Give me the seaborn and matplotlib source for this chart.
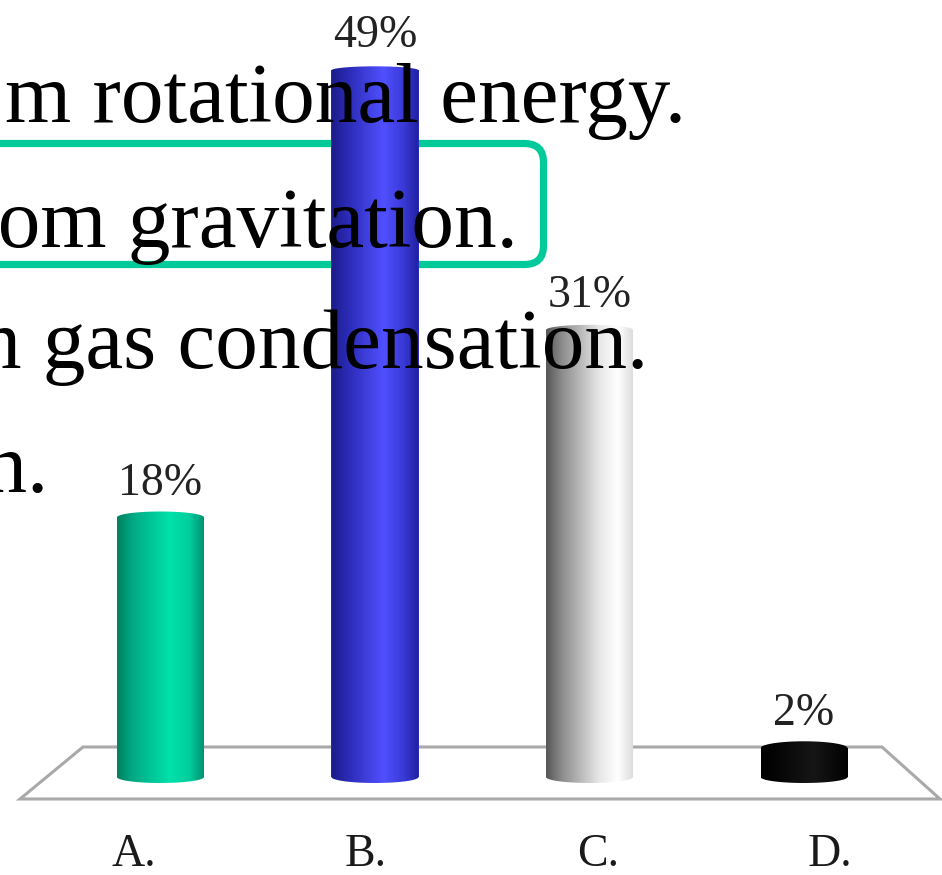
import numpy as np
import pandas as pd
import matplotlib
matplotlib.use("Agg")
import matplotlib.pyplot as plt
from matplotlib.colors import LinearSegmentedColormap
from matplotlib.path import Path
from matplotlib.patches import PathPatch, Polygon, FancyBboxPatch
import seaborn as sns

# ---- data -------------------------------------------------------------
categories = ["A.", "B.", "C.", "D."]
percent = [18, 49, 31, 2]
value_labels = ["18%", "49%", "31%", "2%"]

answer_lines = [
    "m rotational energy.",
    "from gravitation.",
    "from gas condensation.",
    "fusion.",
]

# ---- styling ----------------------------------------------------------
base_colors = ["#00C898", "#3535D8", "#F2F2F2", "#000000"]
shade_stops = [
    ["#00805F", "#00A985", "#00E2AA", "#00CF9E", "#008F6E"],
    ["#1C1C88", "#2A2AB4", "#5050FF", "#3A3AD8", "#2020A0"],
    ["#555555", "#8C8C8C", "#E6E6E6", "#FFFFFF", "#DADADA"],
    ["#000000", "#050505", "#161616", "#0A0A0A", "#000000"],
]
serif = ["Liberation Serif", "DejaVu Serif"]
teal = "#00C99A"
floor_gray = "#A9A9A9"

W, H, DPI = 942, 875, 100

sns.set_style("white")
plt.rcParams["font.family"] = serif

fig = plt.figure(figsize=(W / DPI, H / DPI), dpi=DPI)
fig.patch.set_facecolor("white")

# background layer: floor of the 3D plot and the highlight frame
bg = fig.add_axes([0, 0, 1, 1], zorder=0)
bg.set_xlim(0, W)
bg.set_ylim(H, 0)
bg.axis("off")
floor = Polygon([(20, 799), (83, 747), (882, 747), (940, 799)], closed=True,
                facecolor="white", edgecolor=floor_gray, lw=2.2, joinstyle="miter")
bg.add_patch(floor)
frame = FancyBboxPatch((-120, 143.5), 663.5, 121,
                       boxstyle="round,pad=0,rounding_size=19",
                       facecolor="none", edgecolor=teal, lw=5.2)
bg.add_patch(frame)

# bar layer
ax = fig.add_axes([0, 0, 1, 1], zorder=1)
ax.patch.set_alpha(0)
df = pd.DataFrame({"answer": categories, "share": percent})
sns.barplot(data=df, x="answer", y="share", hue="answer", palette=base_colors,
            width=0.4056, legend=False, ax=ax, saturation=1, edgecolor="none")

xlim = (-0.748, 3.643)
ylim = (-6.796, 53.88)
px_per_unit = H / (ylim[1] - ylim[0])

bars = sorted(ax.patches, key=lambda p: p.get_x())
for i, bar in enumerate(bars):
    x0 = bar.get_x()
    w = bar.get_width()
    v = bar.get_height()
    x1 = x0 + w
    xc = x0 + w / 2
    b_bot = 6.0 / px_per_unit
    b_top = (7.0 - 3.0 * v / 50.0) / px_per_unit

    t = np.linspace(np.pi, 2 * np.pi, 60)
    bottom = np.column_stack([xc + (w / 2) * np.cos(t), 0 + b_bot * np.sin(t)])
    t2 = np.linspace(0, np.pi, 60)
    top = np.column_stack([xc + (w / 2) * np.cos(t2), v + b_top * np.sin(t2)])
    verts = np.vstack([[[x0, v]], bottom, top, [[x0, v]]])
    codes = [Path.MOVETO] + [Path.LINETO] * (len(verts) - 2) + [Path.CLOSEPOLY]
    silhouette = PathPatch(Path(verts, codes), facecolor="none", edgecolor="none")
    ax.add_patch(silhouette)

    cmap = LinearSegmentedColormap.from_list(
        f"cyl{i}", list(zip([0, 0.18, 0.6, 0.82, 1.0], shade_stops[i])))
    grad = np.linspace(0, 1, 256).reshape(1, -1)
    im = ax.imshow(grad, extent=(x0, x1, -b_bot, v + b_top), aspect="auto",
                   cmap=cmap, origin="lower", interpolation="bicubic", zorder=3)
    im.set_clip_path(silhouette)

    ax.annotate(value_labels[i], xy=(xc, v), xytext=(0, 16.5),
                textcoords="offset points", ha="center", va="baseline",
                fontsize=33, color="#222222", family=serif, zorder=5)

ax.set_aspect("auto")
ax.set_xlim(*xlim)
ax.set_ylim(*ylim)
ax.set_xlabel("")
ax.set_ylabel("")
for s in ax.spines.values():
    s.set_visible(False)
ax.tick_params(left=False, bottom=False, labelleft=False, labelbottom=False)
ax.grid(False)

# category labels along the front edge of the floor (perspective spread)
c_mid, spread = 1.513, 1.0816
sec = ax.secondary_xaxis(
    0.047,
    functions=(lambda x: c_mid + (x - c_mid) / spread,
               lambda i: c_mid + (i - c_mid) * spread))
sec.set_xticks(range(len(categories)), labels=categories)
sec.tick_params(length=0, pad=0, labelsize=33, labelcolor="#1A1A1A")
for lab in sec.get_xticklabels():
    lab.set_family(serif)
sec.spines["bottom"].set_visible(False)

# foreground layer: the answer text of the slide
fg = fig.add_axes([0, 0, 1, 1], zorder=2)
fg.patch.set_alpha(0)
fg.set_xlim(0, W)
fg.set_ylim(H, 0)
fg.axis("off")
line_anchor = [(686, 122), (518, 247), (648, 368), (49, 492)]
for text, (xr, yb) in zip(answer_lines, line_anchor):
    fg.text(xr, yb, text, ha="right", va="baseline", fontsize=61.3,
            color="black", family=serif)

fig.savefig("out.png", dpi=DPI)
